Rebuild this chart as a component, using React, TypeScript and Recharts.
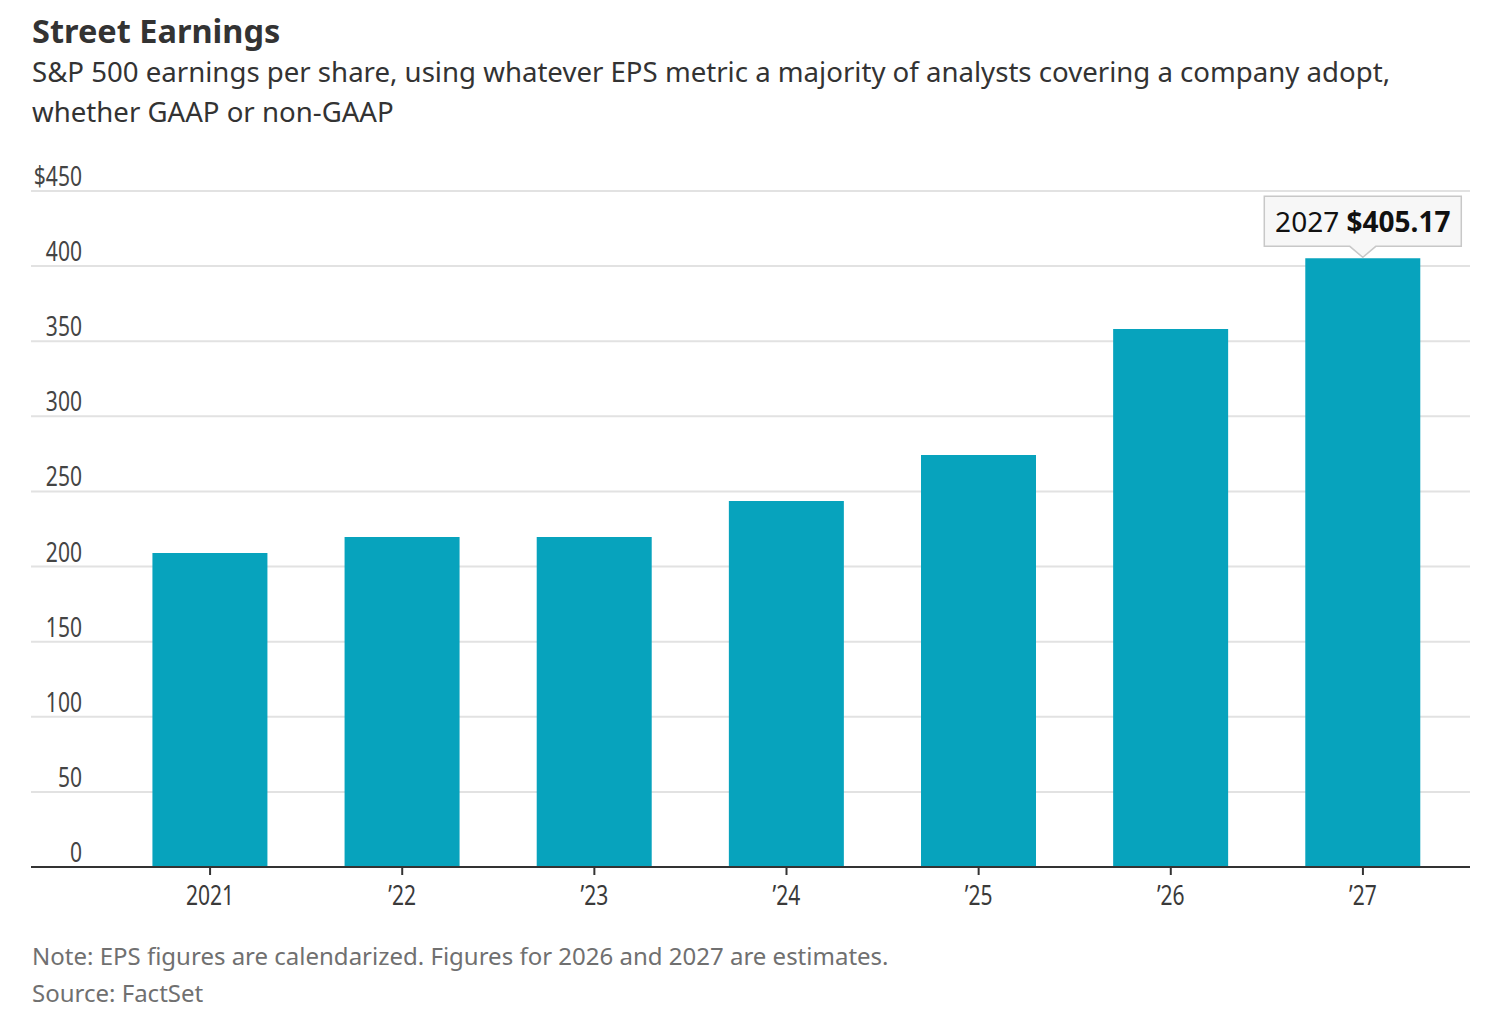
import React from "react";
import { BarChart, Bar, XAxis, YAxis, CartesianGrid } from "recharts";

// Calendarized S&P 500 EPS
const years = ["2021", "2022", "2023", "2024", "2025", "2026", "2027"];
const yearLabels = ["2021", "’22", "’23", "’24", "’25", "’26", "’27"];
const eps = [209, 219.6, 219.6, 243.6, 274.2, 358.2, 405.17];
const yTicks = [0, 50, 100, 150, 200, 250, 300, 350, 400, 450];

const data = years.map((y, i) => ({ year: y, label: yearLabels[i], eps: eps[i] }));

const TEXT_FONT = "'Noto Sans', 'Open Sans', sans-serif";
const BAR_COLOR = "#07a3bd";

// tick numbers in the reference are set in a narrow face; squeeze Noto Sans a bit
const NarrowText = ({ x, y, anchor, fill, children }: any) => (
  <text
    transform={`translate(${x},${y}) scale(0.78,1)`}
    textAnchor={anchor}
    fontFamily={TEXT_FONT}
    fontSize={27}
    fill={fill}
  >
    {children}
  </text>
);

const YTick = (props: any) => {
  const { y, payload } = props;
  const v = payload.value;
  return (
    <NarrowText x={82} y={y - 5} anchor="end" fill="#444">
      {v === 450 ? `$${v}` : v}
    </NarrowText>
  );
};

const XTick = (props: any) => {
  const { x, y, payload } = props;
  return (
    <NarrowText x={x} y={y + 28} anchor="middle" fill="#3a3a3a">
      {payload.value}
    </NarrowText>
  );
};

const LastLabel = (props: any) => {
  const { x, y, width, value, index } = props;
  if (index !== data.length - 1) return null;
  const cx = x + width / 2;
  const bw = 197;
  const bh = 50;
  const bottom = y - 12;
  const top = bottom - bh;
  return (
    <g>
      <path
        d={`M${cx - bw / 2},${top} H${cx + bw / 2} V${bottom} H${cx + 13} L${cx},${y - 1} L${cx - 13},${bottom} H${cx - bw / 2} Z`}
        fill="#f7f7f7"
        stroke="#c8c8c8"
        strokeWidth={1.5}
      />
      <text x={cx} y={top + 36} textAnchor="middle" fontFamily={TEXT_FONT} fontSize={28} fill="#111">
        <tspan>{data[index].year} </tspan>
        <tspan fontWeight={700}>${Number(value).toFixed(2)}</tspan>
      </text>
    </g>
  );
};

export default function App() {
  return (
    <div style={{ position: "absolute", left: 0, top: 0, width: 1503, height: 1020, background: "#fff" }}>
      <svg width={1503} height={1020} style={{ position: "absolute", left: 0, top: 0 }}>
        <text x={32} y={43} fontFamily={TEXT_FONT} fontWeight={700} fontSize={32.5} fill="#333">
          Street Earnings
        </text>
        <text x={32} y={82} fontFamily={TEXT_FONT} fontSize={27.6} fill="#333">
          S&amp;P 500 earnings per share, using whatever EPS metric a majority of analysts covering a company adopt,
        </text>
        <text x={32} y={122} fontFamily={TEXT_FONT} fontSize={27.6} fill="#333">
          whether GAAP or non-GAAP
        </text>
        <text x={32} y={965} fontFamily={TEXT_FONT} fontSize={24} fill="#707070">
          Note: EPS figures are calendarized. Figures for 2026 and 2027 are estimates.
        </text>
        <text x={32} y={1002} fontFamily={TEXT_FONT} fontSize={24} fill="#707070">
          Source: FactSet
        </text>
      </svg>
      <div style={{ position: "absolute", left: 0, top: 0 }}>
        <BarChart
          width={1503}
          height={940}
          data={data}
          margin={{ top: 191, right: 33, bottom: 0, left: 30 }}
          barCategoryGap="20%"
        >
          <CartesianGrid vertical={false} stroke="#e2e2e2" strokeWidth={2} />
          <XAxis
            dataKey="label"
            height={73}
            padding={{ left: 83, right: 11 }}
            axisLine={{ stroke: "#333", strokeWidth: 2 }}
            tickLine={{ stroke: "#333", strokeWidth: 2 }}
            tickSize={8}
            tick={<XTick />}
            interval={0}
          />
          <YAxis
            width={1}
            domain={[0, 450]}
            ticks={yTicks}
            axisLine={false}
            tickLine={false}
            tick={<YTick />}
            interval={0}
          />
          <Bar dataKey="eps" fill={BAR_COLOR} isAnimationActive={false} label={<LastLabel />} />
        </BarChart>
      </div>
    </div>
  );
}
